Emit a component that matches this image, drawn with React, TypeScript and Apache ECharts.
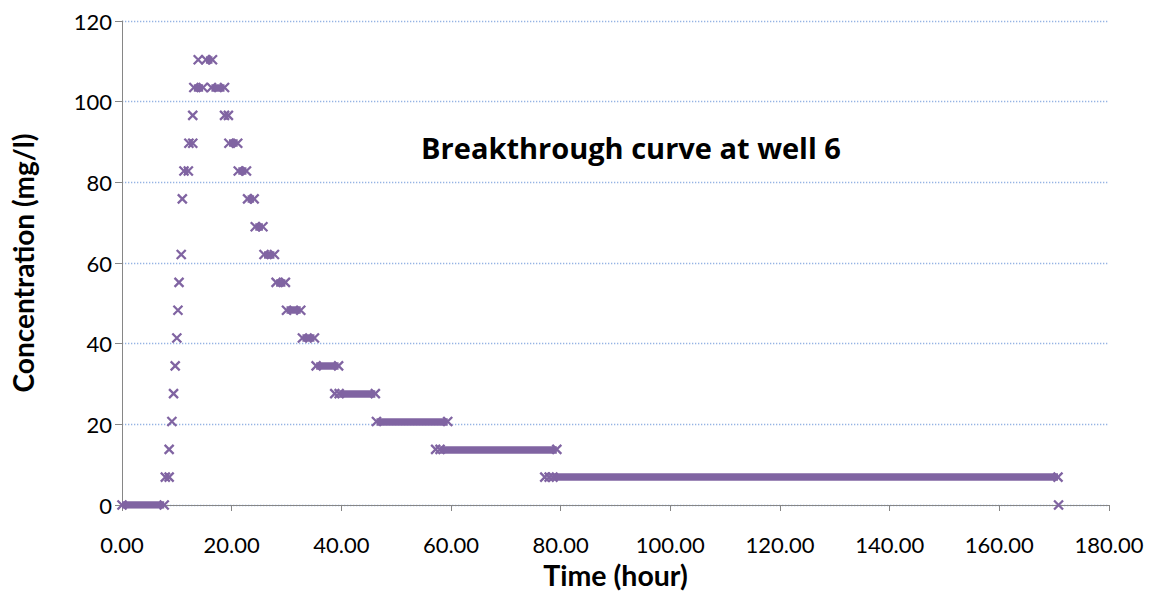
import React, { useEffect, useRef } from "react";
import * as echarts from "echarts";

// Runs of consecutive output points at the same concentration (time in hours, conc in mg/l)
const runConc = [0, 6.9, 82.8, 89.7, 103.5, 110.4, 103.5, 96.6, 89.7, 82.8, 75.9, 69.0, 62.1, 55.2, 48.3, 41.4, 34.5, 27.6, 20.7, 13.8, 6.9];
const runStart = [0.0, 7.9, 11.3, 12.2, 13.1, 15.3, 16.3, 18.7, 19.5, 21.2, 22.9, 24.3, 25.9, 28.1, 30.0, 32.9, 35.4, 39.6, 46.4, 58.0, 78.6];
const runEnd = [7.7, 8.6, 12.1, 12.9, 14.8, 16.5, 18.7, 19.4, 21.1, 22.7, 24.1, 25.7, 27.8, 29.8, 32.6, 35.1, 39.5, 46.2, 59.4, 79.3, 170.7];

// Isolated output points
const singleTime = [8.6, 9.1, 9.4, 9.7, 10.0, 10.2, 10.4, 10.8, 11.0, 12.9, 13.9, 38.8, 57.2, 77.1, 77.9, 170.8];
const singleConc = [13.8, 20.7, 27.6, 34.5, 41.4, 48.3, 55.2, 62.1, 75.9, 96.6, 110.4, 27.6, 13.8, 6.9, 6.9, 0];

const xTicks = [0, 20, 40, 60, 80, 100, 120, 140, 160, 180];
const yTicks = [0, 20, 40, 60, 80, 100, 120];

const titleText = "Breakthrough curve at well 6";
const xName = "Time (hour)";
const yName = "Concentration (mg/l)";

const PURPLE = "#8064A2";

export default function App() {
  const ref = useRef<HTMLDivElement>(null);
  useEffect(() => {
    if (!ref.current) return;
    const chart = echarts.init(ref.current, undefined, { renderer: "svg" });

    const points: number[][] = [];
    singleTime.forEach((t, i) => points.push([t, singleConc[i]]));
    runConc.forEach((c, i) => {
      points.push([runStart[i], c]);
      points.push([runEnd[i], c]);
    });
    const segs = runConc.map((c, i) => ({ coords: [[runStart[i], c], [runEnd[i], c]] }));

    chart.setOption({
      animation: false,
      backgroundColor: "#ffffff",
      grid: { left: 122, right: 42, top: 21, bottom: 83, containLabel: false },
      graphic: [
        {
          type: "text",
          x: 631,
          y: 147,
          style: {
            text: titleText,
            fill: "#000",
            font: "bold 29px 'Open Sans'",
            textAlign: "center",
            textVerticalAlign: "middle",
          },
        },
      ],
      xAxis: {
        type: "value",
        min: xTicks[0],
        max: xTicks[xTicks.length - 1],
        interval: 20,
        name: xName,
        nameLocation: "middle",
        nameGap: 55,
        nameTextStyle: { fontFamily: "Lato", fontWeight: "bold", fontSize: 28.5, color: "#000" },
        axisLine: { show: true, lineStyle: { color: "#868686", width: 1 } },
        axisTick: { show: true, inside: false, length: 6, lineStyle: { color: "#868686" } },
        axisLabel: {
          fontFamily: "Lato",
          fontSize: 22,
          color: "#000",
          margin: 28,
          formatter: (v: number) => v.toFixed(2),
        },
        splitLine: { show: false },
      },
      yAxis: {
        type: "value",
        min: yTicks[0],
        max: yTicks[yTicks.length - 1],
        interval: 20,
        name: yName,
        nameLocation: "middle",
        nameGap: 85,
        nameRotate: 90,
        nameTextStyle: { fontFamily: "Lato", fontWeight: "bold", fontSize: 28, color: "#000" },
        axisLine: { show: true, lineStyle: { color: "#868686", width: 1 } },
        axisTick: { show: true, inside: false, length: 7, lineStyle: { color: "#868686" } },
        axisLabel: { fontFamily: "Lato", fontSize: 22, color: "#000", margin: 10 },
        splitLine: { show: true, lineStyle: { color: "#95B3E3", width: 1.3, type: [1.3, 1.7] } },
      },
      series: [
        {
          type: "lines",
          coordinateSystem: "cartesian2d",
          polyline: false,
          data: segs,
          lineStyle: { color: PURPLE, width: 7.5, opacity: 1, curveness: 0 },
          symbol: ["none", "none"],
          z: 3,
        },
        {
          type: "scatter",
          data: points,
          symbol: "path://M0,0L10,10M10,0L0,10",
          symbolSize: 9,
          itemStyle: { color: PURPLE, borderColor: PURPLE, borderWidth: 2.3, opacity: 1 },
          z: 4,
        },
      ],
    });
    return () => chart.dispose();
  }, []);
  return <div ref={ref} style={{ width: 1151, height: 594, position: "absolute", left: 0, top: 0 }} />;
}
